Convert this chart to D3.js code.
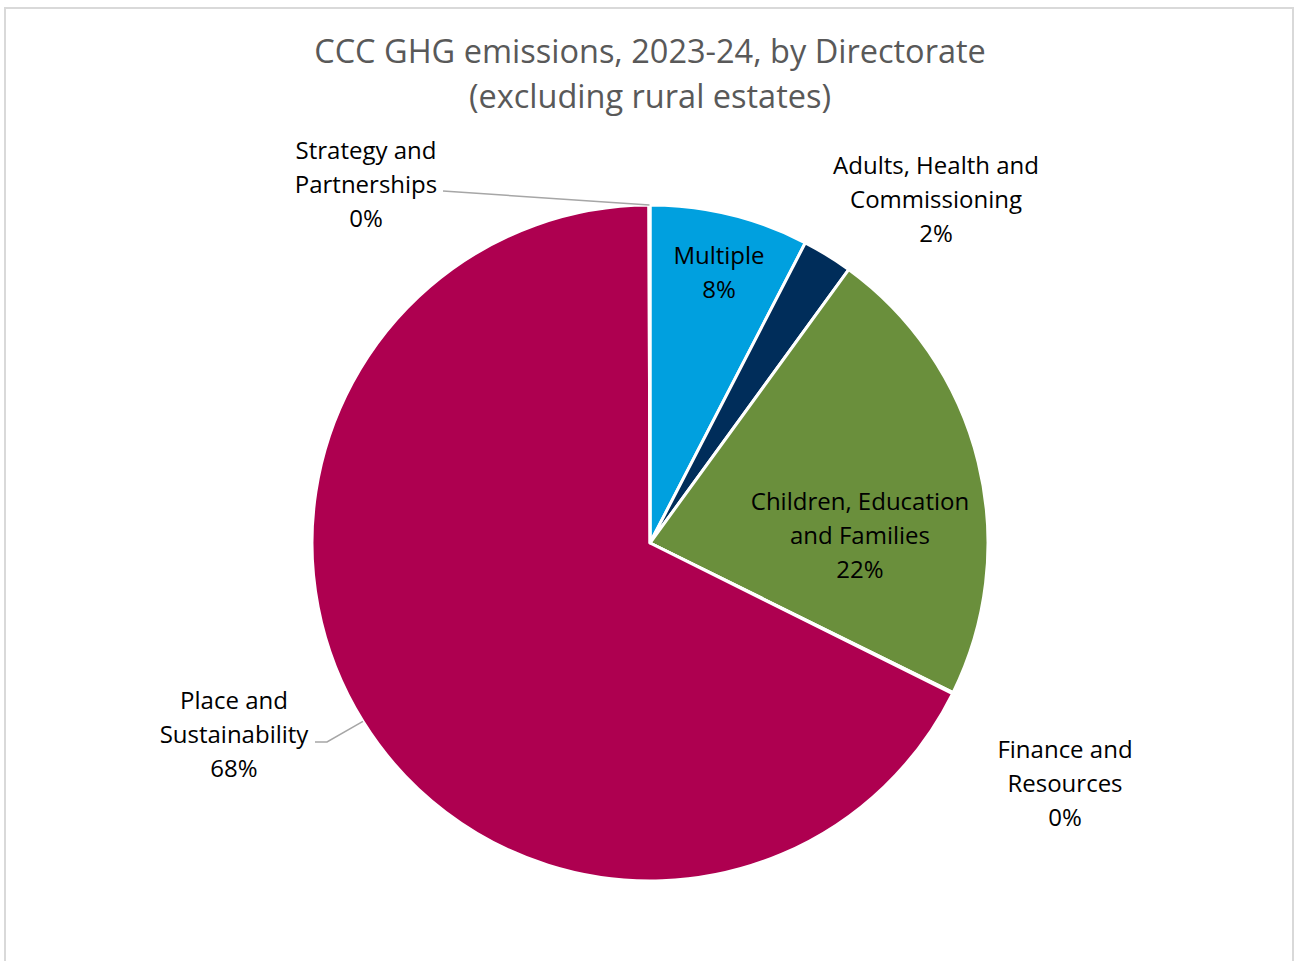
<!DOCTYPE html>
<html>
<head>
<meta charset="utf-8">
<script src="https://cdn.jsdelivr.net/npm/d3@7"></script>
<style>
  html, body { margin: 0; padding: 0; background: #fff; }
  svg { display: block; }
  text { font-family: "Open Sans", "Noto Sans", sans-serif; }
</style>
</head>
<body>
<svg id="chart" width="1295" height="961"></svg>
<script>
// Share of emissions by directorate (percent), clockwise from 12 o'clock
const directorates = [
  "Multiple",
  "Adults, Health and Commissioning",
  "Children, Education and Families",
  "Finance and Resources",
  "Place and Sustainability",
  "Strategy and Partnerships"
];
const shares = [7.6, 2.4, 22.3, 0.05, 67.6, 0.05];
const sliceColors = ["#00A0DF", "#002D5A", "#6A8F3C", "#7F7F7F", "#AE0050", "#A5A5A5"];
const titleLines = ["CCC GHG emissions, 2023-24, by Directorate", "(excluding rural estates)"];

// Label text lines (wrapped the way the chart shows them)
const labelLines = [
  ["Multiple"],
  ["Adults, Health and", "Commissioning"],
  ["Children, Education", "and Families"],
  ["Finance and", "Resources"],
  ["Place and", "Sustainability"],
  ["Strategy and", "Partnerships"]
];

const W = 1295, H = 961;
const cx = 650, cy = 543, R = 338;

// Label block centres, as offsets from the pie centre
const labelOffsets = [
  [69, -270], [286, -343], [210, -7], [415, 241], [-416, 192], [-284, -358]
];
// Leader lines: start point beside the label, optional horizontal run length
const leaders = {
  5: { start: [-207, -352], run: 0 },
  4: { start: [-335, 199], run: 12 }
};

const svg = d3.select("#chart");

// Chart frame
svg.append("rect")
  .attr("x", 5).attr("y", 8)
  .attr("width", W - 7).attr("height", H)
  .attr("fill", "#fff").attr("stroke", "#D9D9D9").attr("stroke-width", 2);

// Title
svg.append("g").selectAll("text")
  .data(titleLines).join("text")
  .attr("x", cx)
  .attr("y", (d, i) => 63 + i * 45)
  .attr("text-anchor", "middle")
  .attr("font-size", 32.5)
  .attr("fill", "#595959")
  .text(d => d);

const data = directorates.map((name, i) => ({ name, value: shares[i], i }));
const total = d3.sum(shares);

const pie = d3.pie().value(d => d.value).sort(null).startAngle(0).endAngle(2 * Math.PI);
const arcs = pie(data);
const arc = d3.arc().innerRadius(0).outerRadius(R);

const g = svg.append("g").attr("transform", `translate(${cx},${cy})`);

g.selectAll("path.slice")
  .data(arcs).join("path")
  .attr("class", "slice")
  .attr("d", arc)
  .attr("fill", d => sliceColors[d.data.i])
  .attr("stroke", "#fff")
  .attr("stroke-width", 3)
  .attr("stroke-linejoin", "round");

// Leader lines for the outside labels
arcs.forEach(a => {
  const L = leaders[a.data.i];
  if (!L) return;
  const mid = (a.startAngle + a.endAngle) / 2;
  const ex = R * Math.sin(mid), ey = -R * Math.cos(mid);
  const pts = [L.start];
  if (L.run) pts.push([L.start[0] + L.run, L.start[1]]);
  pts.push([ex, ey]);
  g.append("path")
    .attr("d", d3.line()(pts))
    .attr("fill", "none")
    .attr("stroke", "#A6A6A6")
    .attr("stroke-width", 1.5);
});

// Data labels: category name + rounded percentage
const lineH = 34.3;
arcs.forEach(a => {
  const i = a.data.i;
  const lines = labelLines[i].concat([Math.round(a.data.value / total * 100) + "%"]);
  const [ox, oy] = labelOffsets[i];
  const top = oy - (lines.length - 1) * lineH / 2;
  const t = g.append("text")
    .attr("text-anchor", "middle")
    .attr("font-size", 24)
    .attr("fill", "#000");
  lines.forEach((s, k) => {
    t.append("tspan")
      .attr("x", ox)
      .attr("y", top + k * lineH + 8)
      .text(s);
  });
});
</script>
</body>
</html>
